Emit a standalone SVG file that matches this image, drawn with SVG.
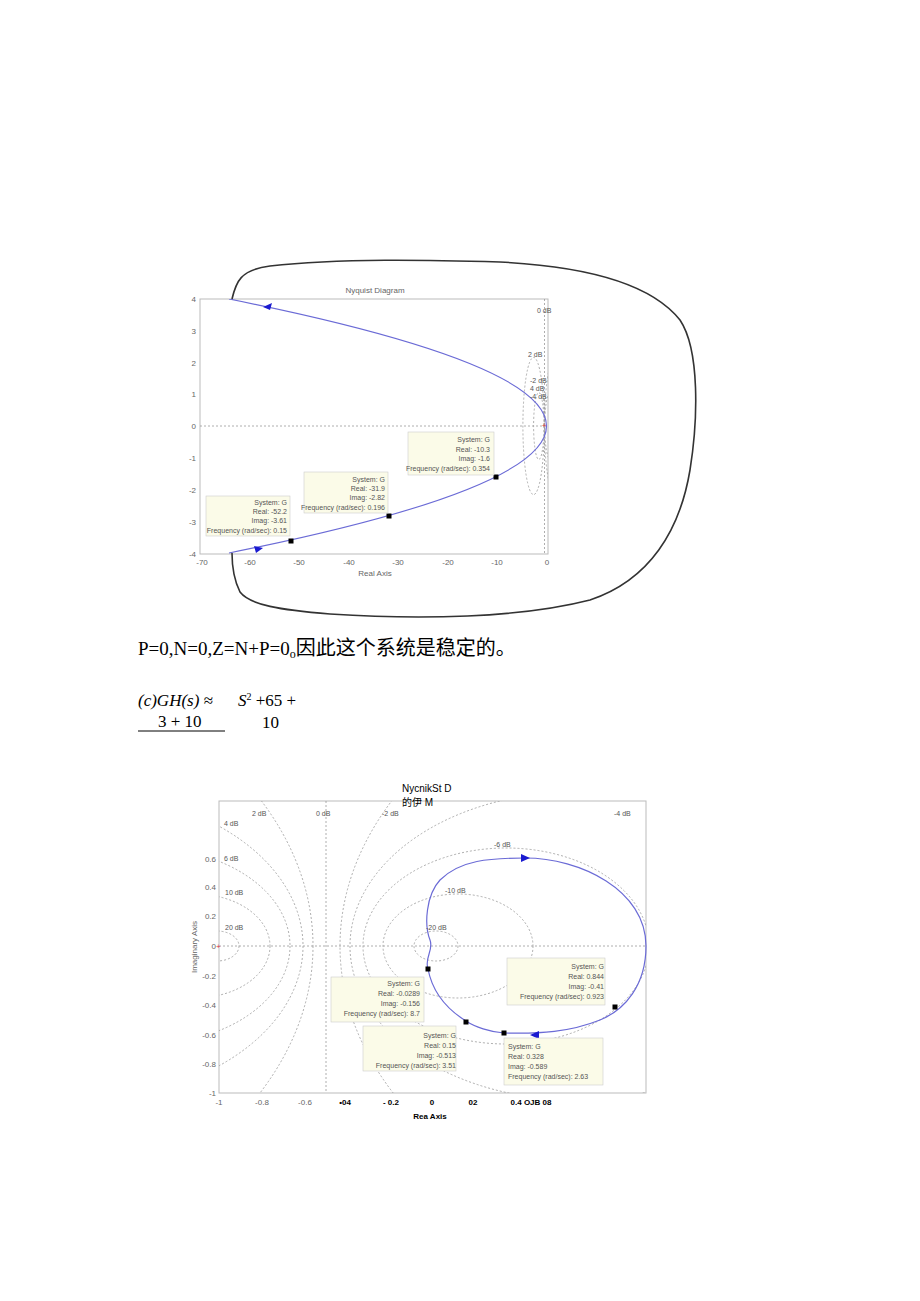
<svg xmlns="http://www.w3.org/2000/svg" width="920" height="1301" viewBox="0 0 920 1301">
<style>
.t{font-family:"Liberation Sans",Arial,sans-serif;font-size:7px;fill:#555}
.tk{font-family:"Liberation Sans",Arial,sans-serif;font-size:8px;fill:#666}
.d{fill:none;stroke:#999;stroke-width:0.8;stroke-dasharray:2,2}
.frame{fill:#fff;stroke:#bbb;stroke-width:1}
.tip{fill:#fbfbe8;stroke:#ccc;stroke-width:0.6}
.cv{fill:none;stroke:#6b6bd6;stroke-width:1.2}
.sq{fill:#000}
.ar{fill:#1a1ad0}
.serif{font-family:"Liberation Serif","Times New Roman","Noto Sans CJK SC",serif;fill:#000}
</style>
<defs>
<clipPath id="c1"><rect x="200" y="299" width="348" height="255"/></clipPath>
<clipPath id="c2"><rect x="219" y="801" width="427" height="292"/></clipPath>
</defs>
<rect width="920" height="1301" fill="#fff"/>

<g id="plot1">
<rect class="frame" x="200" y="299" width="348" height="255"/>
<g clip-path="url(#c1)">
<line class="d" x1="200" y1="426" x2="548" y2="426"/>
<line class="d" x1="544.5" y1="299" x2="544.5" y2="554"/>
<ellipse class="d" cx="533.6" cy="426" rx="10.7" ry="68.6"/>
<ellipse class="d" cx="538.8" cy="426" rx="5.2" ry="33.5"/>
<ellipse class="d" cx="555" cy="426" rx="10.6" ry="68"/>
<ellipse class="d" cx="550" cy="426" rx="5.2" ry="33"/>
<path class="cv" d="M229,299 Q864,426 229,553"/>
</g>
<text x="542" y="428" font-family="Liberation Sans" font-size="7" fill="#d33">+</text>
<path class="ar" d="M263,307 l9,-4 l-2,7 z"/>
<path class="ar" d="M263,548 l-9,-2 l2,7 z"/>
<rect class="sq" x="288.5" y="538.5" width="5" height="5"/>
<rect class="sq" x="386.5" y="513.5" width="5" height="5"/>
<rect class="sq" x="493.5" y="474.5" width="5" height="5"/>
<rect class="tip" x="408" y="432" width="86" height="43"/>
<text class="t" text-anchor="end" x="490" y="442">System: G</text>
<text class="t" text-anchor="end" x="490" y="452">Real: -10.3</text>
<text class="t" text-anchor="end" x="490" y="461">Imag: -1.6</text>
<text class="t" text-anchor="end" x="490" y="471">Frequency (rad/sec): 0.354</text>
<rect class="tip" x="304" y="472" width="84" height="41"/>
<text class="t" text-anchor="end" x="385" y="482">System: G</text>
<text class="t" text-anchor="end" x="385" y="491">Real: -31.9</text>
<text class="t" text-anchor="end" x="385" y="500">Imag: -2.82</text>
<text class="t" text-anchor="end" x="385" y="510">Frequency (rad/sec): 0.196</text>
<rect class="tip" x="206" y="496" width="84" height="40"/>
<text class="t" text-anchor="end" x="287" y="505">System: G</text>
<text class="t" text-anchor="end" x="287" y="514">Real: -52.2</text>
<text class="t" text-anchor="end" x="287" y="523">Imag: -3.61</text>
<text class="t" text-anchor="end" x="287" y="533">Frequency (rad/sec): 0.15</text>
<text class="t" x="537" y="313">0 dB</text>
<text class="t" x="528" y="357">2 dB</text>
<text class="t" x="530" y="383">-2 dB</text>
<text class="t" x="530" y="391">4 dB</text>
<text class="t" x="530" y="399">-4 dB</text>
<g class="tk" text-anchor="end">
<text x="196" y="302">4</text><text x="196" y="334">3</text><text x="196" y="366">2</text><text x="196" y="397">1</text><text x="196" y="429">0</text><text x="196" y="461">-1</text><text x="196" y="493">-2</text><text x="196" y="525">-3</text><text x="196" y="557">-4</text>
</g>
<g class="tk" text-anchor="middle">
<text x="202" y="565">-70</text><text x="250" y="565">-60</text><text x="299" y="565">-50</text><text x="349" y="565">-40</text><text x="398" y="565">-30</text><text x="448" y="565">-20</text><text x="497" y="565">-10</text><text x="547" y="565">0</text>
</g>
<text class="tk" text-anchor="middle" x="375" y="293" font-size="7">Nyquist Diagram</text>
<text class="tk" text-anchor="middle" x="375" y="576" font-size="7">Real Axis</text>
</g>

<g id="contour">
<path d="M232,299 C236,282 240,270 270,266 C340,258 430,260 500,262 C580,266 650,282 680,320 C700,350 698,420 690,470 C680,530 650,580 590,600 C520,618 420,620 330,614 C280,610 250,605 240,592 C234,580 232,565 232,553" fill="none" stroke="#333" stroke-width="1.6"/>
</g>

<g id="text1">
<text class="serif" x="138" y="655" font-size="19">P=0,N=0,Z=N+P=0<tspan font-size="12" dy="3">o</tspan><tspan dy="-3" font-family="Noto Sans CJK SC,sans-serif" font-size="20">因此这个系统是稳定的。</tspan></text>
<text class="serif" x="138" y="706" font-size="17" font-style="italic">(c)GH(s) ≈</text>
<text class="serif" x="238" y="706" font-size="17"><tspan font-style="italic">S</tspan><tspan font-size="10" dy="-6">2</tspan><tspan dy="6"> +65 +</tspan></text>
<text class="serif" x="158" y="727" font-size="17">3 + 10</text>
<line x1="138" y1="731" x2="225" y2="731" stroke="#000" stroke-width="1"/>
<text class="serif" x="262" y="728" font-size="17">10</text>
</g>

<g id="plot2">
<rect class="frame" x="219" y="801" width="427" height="292"/>
<g clip-path="url(#c2)">
<line class="d" x1="219" y1="946" x2="646" y2="946"/>
<line class="d" x1="326" y1="801" x2="326" y2="1093"/>
<ellipse class="d" cx="436" cy="946" rx="22" ry="15"/>
<ellipse class="d" cx="458" cy="946" rx="75" ry="52"/>
<ellipse class="d" cx="506" cy="946" rx="143" ry="98"/>
<ellipse class="d" cx="576" cy="946" rx="226" ry="154"/>
<ellipse class="d" cx="800" cy="946" rx="460" ry="315"/>
<ellipse class="d" cx="-149" cy="946" rx="462" ry="316"/>
<ellipse class="d" cx="77" cy="946" rx="226" ry="154"/>
<ellipse class="d" cx="147" cy="946" rx="143" ry="98"/>
<ellipse class="d" cx="195" cy="946" rx="75" ry="52"/>
<ellipse class="d" cx="217" cy="946" rx="22" ry="15"/>
</g>
<text x="216" y="949" font-family="Liberation Sans" font-size="8" fill="#d33">+</text>
<path class="cv" d="M428,969 C424,958 434,950 430,940 C424,925 426,895 440,880 C460,860 490,858 525,858 C580,858 646,890 646,946 C646,985 625,1010 600,1020 C570,1032 540,1034 504,1033 C490,1032 475,1027 466,1021 C445,1008 432,990 428,969 Z"/>
<path class="ar" d="M530,858 l-9,-4 l0,8 z"/>
<path class="ar" d="M530,1035 l9,-4 l0,8 z"/>
<rect class="sq" x="425.5" y="966.5" width="5" height="5"/>
<rect class="sq" x="463.5" y="1019.5" width="5" height="5"/>
<rect class="sq" x="501.5" y="1030.5" width="5" height="5"/>
<rect class="sq" x="612.5" y="1004.5" width="5" height="5"/>
<rect class="tip" x="331" y="977" width="93" height="45"/>
<text class="t" text-anchor="end" x="420" y="986">System: G</text>
<text class="t" text-anchor="end" x="420" y="996">Real: -0.0289</text>
<text class="t" text-anchor="end" x="420" y="1006">Imag: -0.156</text>
<text class="t" text-anchor="end" x="420" y="1016">Frequency (rad/sec): 8.7</text>
<rect class="tip" x="363" y="1026" width="93" height="45"/>
<text class="t" text-anchor="end" x="456" y="1038">System: G</text>
<text class="t" text-anchor="end" x="456" y="1048">Real: 0.15</text>
<text class="t" text-anchor="end" x="456" y="1058">Imag: -0.513</text>
<text class="t" text-anchor="end" x="456" y="1068">Frequency (rad/sec): 3.51</text>
<rect class="tip" x="507" y="958" width="98" height="47"/>
<text class="t" text-anchor="end" x="604" y="969">System: G</text>
<text class="t" text-anchor="end" x="604" y="979">Real: 0.844</text>
<text class="t" text-anchor="end" x="604" y="989">Imag: -0.41</text>
<text class="t" text-anchor="end" x="604" y="999">Frequency (rad/sec): 0.923</text>
<rect class="tip" x="504" y="1038" width="99" height="47"/>
<text class="t" x="508" y="1049">System: G</text>
<text class="t" x="508" y="1059">Real: 0.328</text>
<text class="t" x="508" y="1069">Imag: -0.589</text>
<text class="t" x="508" y="1079">Frequency (rad/sec): 2.63</text>
<text class="t" x="252" y="816">2 dB</text>
<text class="t" x="316" y="816">0 dB</text>
<text class="t" x="382" y="816">-2 dB</text>
<text class="t" x="614" y="816">-4 dB</text>
<text class="t" x="224" y="826">4 dB</text>
<text class="t" x="224" y="861">6 dB</text>
<text class="t" x="225" y="895">10 dB</text>
<text class="t" x="225" y="930">20 dB</text>
<text class="t" x="494" y="847">-6 dB</text>
<text class="t" x="445" y="893">-10 dB</text>
<text class="t" x="426" y="930">-20 dB</text>
<g class="tk" text-anchor="end">
<text x="216" y="862">0.6</text><text x="216" y="890">0.4</text><text x="216" y="919">0.2</text><text x="216" y="949">0</text><text x="216" y="979">-0.2</text><text x="216" y="1008">-0.4</text><text x="216" y="1038">-0.6</text><text x="216" y="1067">-0.8</text><text x="216" y="1096">-1</text>
</g>
<g class="tk" text-anchor="middle">
<text x="219" y="1105">-1</text><text x="262" y="1105">-0.8</text><text x="305" y="1105">-0.6</text>
</g>
<g font-family="Liberation Sans,Arial,sans-serif" font-size="8" font-weight="bold" fill="#000" text-anchor="middle">
<text x="345" y="1105">•04</text><text x="391" y="1105">- 0.2</text><text x="432" y="1105">0</text><text x="473" y="1105">02</text><text x="531" y="1105">0.4 OJB 08</text>
<text x="430" y="1119">Rea Axis</text>
</g>
<text class="tk" text-anchor="middle" font-size="7" transform="translate(197,947) rotate(-90)">Imaginary Axis</text>
<text x="402" y="792" font-family="Liberation Sans,Arial,sans-serif" font-size="10" fill="#000">NycnikSt D</text>
<text x="402" y="806" font-family="Liberation Sans,'Noto Sans CJK SC',sans-serif" font-size="10" fill="#000">的伊  M</text>
</g>
</svg>
